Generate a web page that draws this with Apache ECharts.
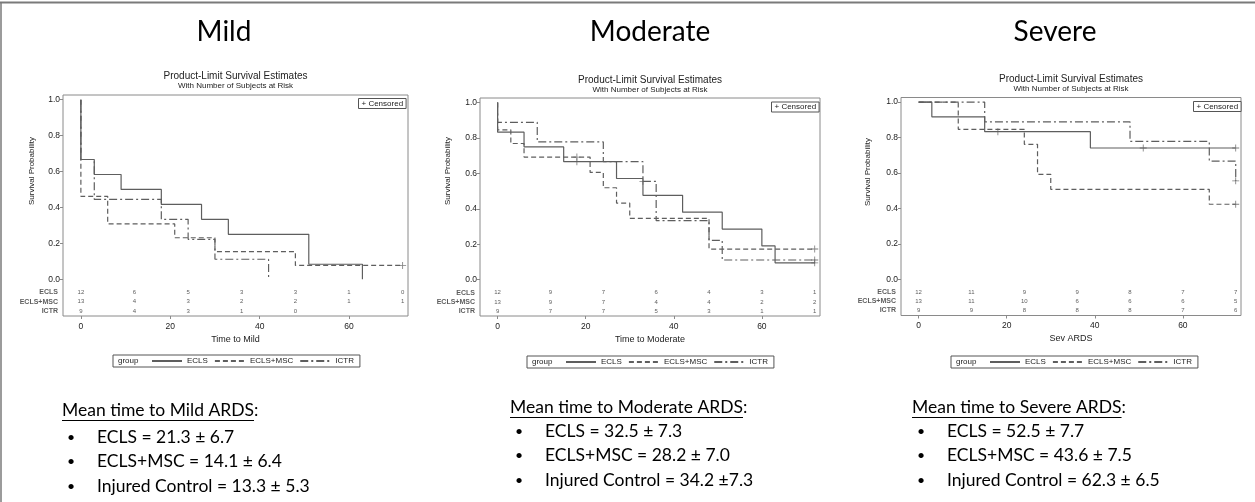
<!DOCTYPE html>
<html>
<head>
<meta charset="utf-8">
<script src="https://cdn.jsdelivr.net/npm/echarts@6/dist/echarts.min.js"></script>
<style>
html, body { margin: 0; padding: 0; background: #ffffff; }
#chart { width: 1255px; height: 502px; }
</style>
</head>
<body>
<div id="chart"></div>
<script>
// ---- data -------------------------------------------------------------
const groups = ['ECLS', 'ECLS+MSC', 'ICTR'];
const panelTitles = ['Mild', 'Moderate', 'Severe'];
const timeAxisNames = ['Time to Mild', 'Time to Moderate', 'Sev ARDS'];
const timeTicks = [0, 20, 40, 60];
const probTicks = [0, 0.2, 0.4, 0.6, 0.8, 1.0];
const riskTimes = [0, 12, 24, 36, 48, 60, 72];

// Kaplan-Meier estimates as [time, survival] step points
const mildEcls    = [[0, 1], [0, 0.6667], [3, 0.5833], [9, 0.5], [18, 0.4167], [27, 0.3333], [33, 0.25], [51, 0.0833], [63, 0]];
const mildEclsMsc = [[0, 1], [0, 0.4615], [6, 0.3077], [21, 0.2308], [30, 0.1538], [48, 0.0769], [72, 0.0769]];
const mildIctr    = [[0, 1], [0, 0.6667], [3, 0.4444], [18, 0.3333], [24, 0.2222], [30, 0.1111], [42, 0]];

const modEcls     = [[0, 1], [0, 0.8333], [6, 0.75], [15, 0.6667], [27, 0.5714], [33, 0.4762], [42, 0.381], [51, 0.2857], [60, 0.1905], [63, 0.0952], [72, 0.0952]];
const modEclsMsc  = [[0, 1], [0, 0.8462], [3, 0.7692], [6, 0.6923], [21, 0.6058], [24, 0.5192], [27, 0.4327], [30, 0.3462], [48, 0.1731], [72, 0.1731]];
const modIctr     = [[0, 1], [0, 0.8889], [9, 0.7778], [24, 0.6667], [33, 0.5556], [36, 0.3333], [48, 0.2222], [51, 0.1111], [72, 0.1111]];

const sevEcls     = [[0, 1], [3, 0.9167], [15, 0.8333], [39, 0.7407], [72, 0.7407]];
const sevEclsMsc  = [[0, 1], [9, 0.8462], [24, 0.7615], [27, 0.5923], [30, 0.5077], [66, 0.4231], [72, 0.4231]];
const sevIctr     = [[0, 1], [15, 0.8889], [48, 0.7778], [66, 0.6667], [72, 0.5556]];

// censored observations
const mildCensEcls = [];
const mildCensEclsMsc = [[72, 0.0769]];
const mildCensIctr = [];
const modCensEcls = [[18, 0.6667], [72, 0.0952]];
const modCensEclsMsc = [[18, 0.6923], [72, 0.1731]];
const modCensIctr = [[33, 0.5556], [72, 0.1111]];
const sevCensEcls = [[18, 0.8333], [51, 0.7407], [72, 0.7407]];
const sevCensEclsMsc = [[72, 0.4231]];
const sevCensIctr = [[72, 0.5556]];

// number of subjects at risk at riskTimes
const mildRiskEcls = [12, 6, 5, 3, 3, 1, 0];
const mildRiskEclsMsc = [13, 4, 3, 2, 2, 1, 1];
const mildRiskIctr = [9, 4, 3, 1, 0];
const modRiskEcls = [12, 9, 7, 6, 4, 3, 1];
const modRiskEclsMsc = [13, 9, 7, 4, 4, 2, 2];
const modRiskIctr = [9, 7, 7, 5, 3, 1, 1];
const sevRiskEcls = [12, 11, 9, 9, 8, 7, 7];
const sevRiskEclsMsc = [13, 11, 10, 6, 6, 6, 5];
const sevRiskIctr = [9, 9, 8, 8, 8, 7, 6];

const meanHeadings = ['Mean time to Mild ARDS', 'Mean time to Moderate ARDS', 'Mean time to Severe ARDS'];
const meanLines = [
  ['ECLS = 21.3 \u00b1 6.7', 'ECLS+MSC = 14.1 \u00b1 6.4', 'Injured Control = 13.3 \u00b1 5.3'],
  ['ECLS = 32.5 \u00b1 7.3', 'ECLS+MSC = 28.2 \u00b1 7.0', 'Injured Control = 34.2 \u00b17.3'],
  ['ECLS = 52.5 \u00b1 7.7', 'ECLS+MSC = 43.6 \u00b1 7.5', 'Injured Control = 62.3 \u00b1 6.5']
];

const curves = [[mildEcls, mildEclsMsc, mildIctr], [modEcls, modEclsMsc, modIctr], [sevEcls, sevEclsMsc, sevIctr]];
const censored = [[mildCensEcls, mildCensEclsMsc, mildCensIctr], [modCensEcls, modCensEclsMsc, modCensIctr], [sevCensEcls, sevCensEclsMsc, sevCensIctr]];
const atRisk = [[mildRiskEcls, mildRiskEclsMsc, mildRiskIctr], [modRiskEcls, modRiskEclsMsc, modRiskIctr], [sevRiskEcls, sevRiskEclsMsc, sevRiskIctr]];

// ---- layout & style ---------------------------------------------------
const X_MIN = -4, X_MAX = 73.2;
const Y_MIN = -0.205, Y_MAX = 1.026;
const RISK_ROWS = [-0.074, -0.126, -0.177];   // rows of the at-risk table inside the frame

const panels = [
  { grid: { left: 63,  top: 95,   width: 345, height: 221 }, head: 224,  titleY: 76, yName: [32, 171],  cens: [358, 98],    legend: [113, 355], meanX: 62,  meanY: 410, rows: [437, 461, 486] },
  { grid: { left: 480, top: 98,   width: 340, height: 218 }, head: 650,  titleY: 80, yName: [448, 171], cens: [771, 101.5], legend: [527, 356], meanX: 510, meanY: 407, rows: [431, 455, 480] },
  { grid: { left: 901, top: 97.5, width: 340, height: 218 }, head: 1055, titleY: 79, yName: [868, 172], cens: [1193, 101],  legend: [951, 356], meanX: 912, meanY: 407, rows: [431, 455, 480] }
];

const SAS_FONT = '"Liberation Sans", Arial, sans-serif';
const SLIDE_FONT = 'Lato, "Open Sans", sans-serif';
const LINE_COLOR = '#5e5e5e';
const FRAME_COLOR = '#8a8a8a';
const lineTypes = ['solid', [5, 3], [8, 3, 2, 3]];
const PLUS = 'path://M-0.12,-1L0.12,-1L0.12,-0.12L1,-0.12L1,0.12L0.12,0.12L0.12,1L-0.12,1L-0.12,0.12L-1,0.12L-1,-0.12L-0.12,-0.12Z';

const measure = (() => {
  const ctx = document.createElement('canvas').getContext('2d');
  return (text, font) => { ctx.font = font; return ctx.measureText(text).width; };
})();

const grids = [], xAxes = [], yAxes = [], series = [], legends = [], graphics = [];

panels.forEach((p, pi) => {
  grids.push(Object.assign({ show: true, borderColor: FRAME_COLOR, borderWidth: 1, containLabel: false }, p.grid));

  xAxes.push({
    type: 'value', gridIndex: pi, min: X_MIN, max: X_MAX,
    name: timeAxisNames[pi], nameLocation: 'middle', nameGap: 19,
    nameTextStyle: { fontFamily: SAS_FONT, fontSize: 9, color: '#222' },
    axisLine: { show: false, onZero: false },
    axisTick: { show: true, length: 3, customValues: timeTicks, lineStyle: { color: FRAME_COLOR } },
    axisLabel: { customValues: timeTicks, fontFamily: SAS_FONT, fontSize: 8.5, color: '#222', margin: 6 },
    splitLine: { show: false }
  });
  yAxes.push({
    type: 'value', gridIndex: pi, min: Y_MIN, max: Y_MAX,
    axisLine: { show: false, onZero: false },
    axisTick: { show: true, length: 3, customValues: probTicks, lineStyle: { color: FRAME_COLOR } },
    axisLabel: { customValues: probTicks, formatter: v => v.toFixed(1), fontFamily: SAS_FONT, fontSize: 8.5, color: '#222', margin: 3 },
    splitLine: { show: false }
  });

  groups.forEach((g, gi) => {
    series.push({
      type: 'line', name: g, xAxisIndex: pi, yAxisIndex: pi, step: 'end',
      data: curves[pi][gi], symbol: 'none', showSymbol: false, silent: true,
      lineStyle: { color: LINE_COLOR, width: 1.2, type: lineTypes[gi] },
      itemStyle: { color: LINE_COLOR }, z: 3
    });
    series.push({
      type: 'scatter', name: g + ' censored', xAxisIndex: pi, yAxisIndex: pi,
      data: censored[pi][gi], symbol: PLUS, symbolSize: 7, silent: true,
      itemStyle: { color: LINE_COLOR }, z: 4
    });
    series.push({
      type: 'scatter', name: g + ' at risk', xAxisIndex: pi, yAxisIndex: pi, silent: true,
      data: atRisk[pi][gi].map((n, i) => [riskTimes[i], RISK_ROWS[gi], n]),
      symbolSize: 0,
      label: { show: true, position: 'inside', formatter: d => String(d.data[2]), fontFamily: SAS_FONT, fontSize: 6, color: '#333' }
    });
    series.push({
      type: 'scatter', name: g + ' row', xAxisIndex: pi, yAxisIndex: pi, silent: true,
      data: [[X_MIN, RISK_ROWS[gi]]], symbolSize: 0, clip: false,
      label: { show: true, position: 'left', distance: 5, formatter: g, fontFamily: SAS_FONT, fontSize: 7, fontWeight: 'bold', color: '#333' }
    });
  });

  legends.push({
    data: groups, selectedMode: false, orient: 'horizontal',
    left: p.legend[0], top: p.legend[1],
    padding: [2, 6, 2, 38], itemGap: 6, itemWidth: 30, itemHeight: 8,
    borderColor: '#555', borderWidth: 1,
    itemStyle: { opacity: 0 },
    textStyle: { fontFamily: SAS_FONT, fontSize: 8, color: '#222' }
  });
  graphics.push({ type: 'text', left: p.legend[0] + 5, top: p.legend[1] + 2, style: { text: 'group', font: '8px ' + SAS_FONT, fill: '#222' } });

  // slide heading
  graphics.push({ type: 'text', x: p.head, y: 32, style: { text: panelTitles[pi], font: '28px ' + SLIDE_FONT, fill: '#000', textAlign: 'center', textVerticalAlign: 'middle' } });
  // plot titles
  const cx = p.grid.left + p.grid.width / 2;
  graphics.push({ type: 'text', x: cx, y: p.titleY, style: { text: 'Product-Limit Survival Estimates', font: '10px ' + SAS_FONT, fill: '#222', textAlign: 'center', textVerticalAlign: 'middle' } });
  graphics.push({ type: 'text', x: cx, y: p.titleY + 10, style: { text: 'With Number of Subjects at Risk', font: '8px ' + SAS_FONT, fill: '#222', textAlign: 'center', textVerticalAlign: 'middle' } });
  // vertical axis title
  graphics.push({ type: 'text', x: p.yName[0], y: p.yName[1], rotation: Math.PI / 2, style: { text: 'Survival Probability', font: '8px ' + SAS_FONT, fill: '#222', textAlign: 'center', textVerticalAlign: 'middle' } });
  // censored key
  const censFont = '8px ' + SAS_FONT;
  const cw = measure('+ Censored', censFont) + 6;
  graphics.push({ type: 'rect', shape: { x: p.cens[0] + 0.5, y: p.cens[1] + 0.5, width: cw, height: 10 }, style: { fill: '#fff', stroke: '#555', lineWidth: 1 }, z: 10 });
  graphics.push({ type: 'text', x: p.cens[0] + 3.5, y: p.cens[1] + 5.5, style: { text: '+ Censored', font: censFont, fill: '#222', textVerticalAlign: 'middle' }, z: 11 });

  // mean time summary
  const meanFont = '17.5px ' + SLIDE_FONT;
  const hw = measure(meanHeadings[pi], meanFont);
  graphics.push({ type: 'text', x: p.meanX, y: p.meanY, style: { text: meanHeadings[pi] + ':', font: meanFont, fill: '#000', textVerticalAlign: 'middle' } });
  graphics.push({ type: 'line', shape: { x1: p.meanX, y1: p.meanY + 10.5, x2: p.meanX + hw, y2: p.meanY + 10.5 }, style: { stroke: '#000', lineWidth: 1 } });
  meanLines[pi].forEach((t, li) => {
    const y = p.rows[li];
    graphics.push({ type: 'text', x: p.meanX + 5, y: y, style: { text: '\u2022', font: '14px ' + SLIDE_FONT, fill: '#000', textVerticalAlign: 'middle' } });
    graphics.push({ type: 'text', x: p.meanX + 35, y: y, style: { text: t, font: meanFont, fill: '#000', textVerticalAlign: 'middle' } });
  });
});

// slide frame
graphics.push({ type: 'line', shape: { x1: 0, y1: 2.5, x2: 1255, y2: 2.5 }, style: { stroke: '#7a7a7a', lineWidth: 2 } });
graphics.push({ type: 'line', shape: { x1: 1, y1: 2, x2: 1, y2: 502 }, style: { stroke: '#7a7a7a', lineWidth: 1.5 } });

const chart = echarts.init(document.getElementById('chart'), null, { renderer: 'canvas' });
chart.setOption({
  animation: false,
  backgroundColor: '#ffffff',
  grid: grids,
  xAxis: xAxes,
  yAxis: yAxes,
  legend: legends,
  series: series,
  graphic: graphics
});
</script>
</body>
</html>
